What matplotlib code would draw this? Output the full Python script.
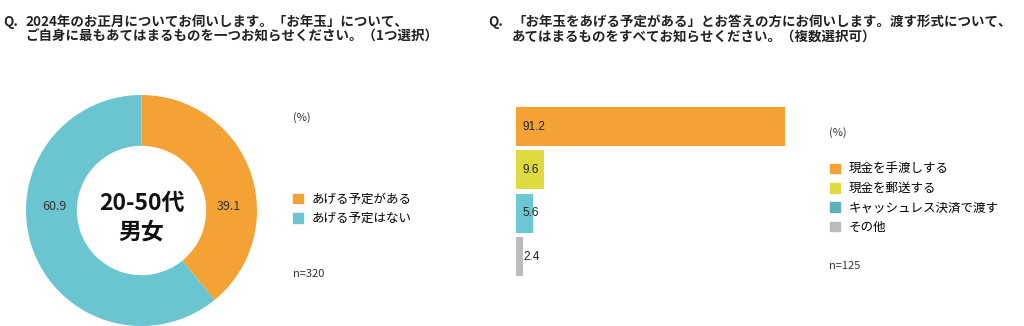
import matplotlib.pyplot as plt
from matplotlib.patches import Patch

plt.rcParams['font.family'] = ['Noto Sans CJK JP', 'DejaVu Sans']

# data
donut_labels = ['あげる予定がある', 'あげる予定はない']
donut_values = [39.1, 60.9]
donut_colors = ['#F4A233', '#6BC5D0']

bar_labels = ['現金を手渡しする', '現金を郵送する', 'キャッシュレス決済で渡す', 'その他']
bar_values = [91.2, 9.6, 5.6, 2.4]
bar_colors = ['#F4A233', '#DFDA3F', '#6BC7D2', '#BBBBBB']
legend_colors = ['#F4A233', '#DFDA3F', '#5FB0B8', '#BBBBBB']

W, H = 1024, 326
fig = plt.figure(figsize=(W / 100, H / 100), dpi=100)


def fx(px):
    return px / W


def fy(py):
    # py measured from the top
    return 1 - py / H


# titles
title_kw = dict(fontsize=9.7, fontweight='bold', va='center', color='#222222')
fig.text(fx(3), fy(22), 'Q.', **title_kw)
fig.text(fx(25), fy(22), '2024年のお正月についてお伺いします。「お年玉」について、', **title_kw)
fig.text(fx(25), fy(37), 'ご自身に最もあてはまるものを一つお知らせください。（1つ選択）', **title_kw)
fig.text(fx(488), fy(22), 'Q.', **title_kw)
fig.text(fx(512), fy(22), '「お年玉をあげる予定がある」とお答えの方にお伺いします。渡す形式について、', **title_kw)
fig.text(fx(512), fy(37), 'あてはまるものをすべてお知らせください。（複数選択可）', **title_kw)

# donut
r = 115.5
cx, cy = 141.5, 210.5
ax1 = fig.add_axes([fx(cx - r), fy(cy + r), fx(2 * r), 2 * r / H])
wedges, _ = ax1.pie(donut_values, colors=donut_colors, startangle=90, counterclock=False,
                    radius=1, wedgeprops=dict(width=0.44, edgecolor='none'))
ax1.set_xlim(-1, 1)
ax1.set_ylim(-1, 1)
ax1.axis('off')
ax1.text(0.753, 0.033, f'{donut_values[0]:.1f}', ha='center', va='center', fontsize=9, color='#333333')
ax1.text(-0.753, 0.033, f'{donut_values[1]:.1f}', ha='center', va='center', fontsize=9, color='#333333')
ax1.text(0, 0.065, '20-50代', ha='center', va='center', fontsize=16.5, fontweight='bold', color='#111111')
ax1.text(0, -0.19, '男女', ha='center', va='center', fontsize=16.5, fontweight='bold', color='#111111')

leg_kw = dict(loc='upper left', frameon=False, fontsize=9, handlelength=0.8, handleheight=0.8,
              handletextpad=0.72, labelspacing=0.5, borderpad=0, borderaxespad=0)

fig.text(fx(293), fy(118), '(%)', fontsize=8, va='center', color='#333333')
fig.text(fx(293), fy(274), 'n=320', fontsize=8, va='center', color='#333333')
fig.legend(handles=[Patch(color=c, label=l) for c, l in zip(donut_colors, donut_labels)],
           bbox_to_anchor=(fx(293), fy(193)), **leg_kw)

# bars
ax2 = fig.add_axes([fx(516), fy(278.2), fx(295), 173.3 / H])
ypos = list(range(len(bar_values)))
ax2.barh(ypos, bar_values, height=0.9, color=bar_colors)
ax2.set_xlim(0, 100)
ax2.set_ylim(3.5, -0.5)
ax2.axis('off')
for y, v in zip(ypos, bar_values):
    ax2.annotate(f'{v:.1f}', (0, y), xytext=(5, 0), textcoords='offset points',
                 ha='left', va='center', fontsize=8.5, family='Liberation Sans', color='#222222')

fig.text(fx(829), fy(133), '(%)', fontsize=8, va='center', color='#333333')
fig.text(fx(829), fy(266), 'n=125', fontsize=8, va='center', color='#333333')
fig.legend(handles=[Patch(color=c, label=l) for c, l in zip(legend_colors, bar_labels)],
           bbox_to_anchor=(fx(830), fy(163)), **leg_kw)

plt.savefig('out.png', dpi=100)
